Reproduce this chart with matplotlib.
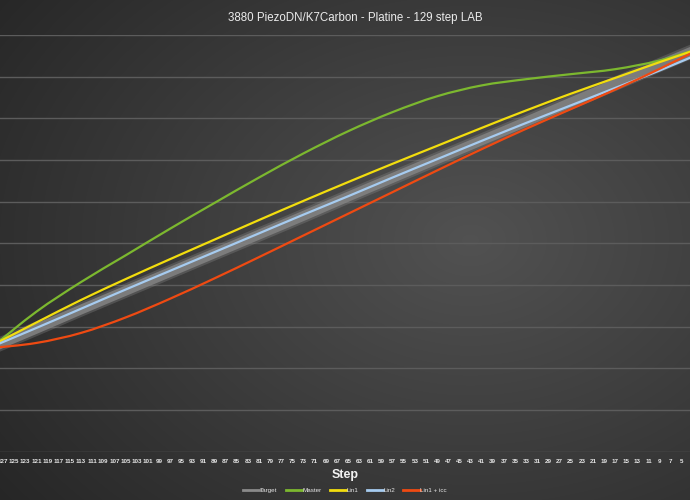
import numpy as np
import matplotlib
matplotlib.use("Agg")
import matplotlib.pyplot as plt
from matplotlib.path import Path
from matplotlib.patches import PathPatch
from matplotlib.lines import Line2D

plt.rcParams['font.family'] = ['Liberation Sans', 'DejaVu Sans']

steps = [129, 121, 113, 105, 97, 89, 81, 73, 65, 57, 49, 41, 33, 25, 17, 9, 1]
target = [25.0, 29.5, 34.1, 38.6, 43.1, 47.6, 52.1, 56.6, 61.2, 65.7, 70.2, 74.7, 79.2, 83.8, 88.3, 92.8, 97.3]
master = [25.1, 33.6, 40.7, 47.1, 53.5, 59.7, 65.8, 71.6, 76.9, 81.5, 85.3, 87.9, 89.4, 90.6, 91.8, 93.9, 97.2]
lin1 = [25.5, 31.0, 36.4, 41.4, 46.2, 50.9, 55.6, 60.2, 64.7, 69.1, 73.4, 77.7, 81.9, 85.9, 89.7, 93.5, 97.1]
lin2 = [25.2, 29.7, 34.3, 38.9, 43.4, 47.9, 52.4, 56.9, 61.3, 65.8, 70.2, 74.6, 78.9, 83.1, 87.3, 91.5, 96.0]
lin1_icc = [24.9, 26.1, 28.5, 32.2, 36.7, 41.6, 46.7, 51.9, 57.1, 62.3, 67.5, 72.6, 77.5, 82.2, 86.9, 91.9, 97.2]
tick_steps = list(range(127, 4, -2))
tick_labels = [str(s) for s in tick_steps]

title = "3880 PiezoDN/K7Carbon - Platine - 129 step LAB"

fig = plt.figure(figsize=(6.9, 5.0), dpi=100)

# background gradient
bg = fig.add_axes([0, 0, 1, 1], zorder=-10)
H, W = 500, 690
yy, xx = np.mgrid[0:H, 0:W]
cx, cy = 470, 240
r = np.sqrt(((xx - cx) / 520.0) ** 2 + ((yy - cy) / 380.0) ** 2)
val = 0.32 - 0.15 * np.clip(r, 0, 1.3)
img = np.dstack([val, val, val])
bg.imshow(img, aspect='auto', extent=[0, 1, 0, 1], origin='upper')
bg.axis('off')

ax = fig.add_axes([0, 0.0966, 1, 0.93 - 0.0966])
ax.set_facecolor('none')
ax.set_xlim(127.54, 3.57)
ax.set_ylim(0, 100)
for sp in ax.spines.values():
    sp.set_visible(False)
ax.set_yticks(np.arange(0, 101, 10))
ax.set_yticklabels([])
ax.tick_params(axis='y', length=0)
ax.grid(axis='y', color='#5c5c5c', linewidth=1.0)
ax.set_axisbelow(True)
ax.set_xticks(tick_steps)
ax.set_xticklabels(tick_labels, fontsize=4.5, color='#e6e6e6', fontweight='bold')
ax.tick_params(axis='x', length=0, pad=5)


def smooth_path(xs, ys, t=1.0):
    xs = np.asarray(xs, float)
    ys = np.asarray(ys, float)
    n = len(xs)
    verts = [(xs[0], ys[0])]
    codes = [Path.MOVETO]
    for i in range(n - 1):
        p0 = np.array([xs[max(i - 1, 0)], ys[max(i - 1, 0)]])
        p1 = np.array([xs[i], ys[i]])
        p2 = np.array([xs[i + 1], ys[i + 1]])
        p3 = np.array([xs[min(i + 2, n - 1)], ys[min(i + 2, n - 1)]])
        c1 = p1 + (p2 - p0) * t / 6.0
        c2 = p2 - (p3 - p1) * t / 6.0
        verts += [tuple(c1), tuple(c2), tuple(p2)]
        codes += [Path.CURVE4] * 3
    return Path(verts, codes)


def draw(ys, color, lw, alpha=1.0, z=2):
    patch = PathPatch(smooth_path(steps, ys), facecolor='none', edgecolor=color,
                      linewidth=lw, alpha=alpha, zorder=z, capstyle='butt')
    ax.add_patch(patch)


draw(target, '#909090', 10, alpha=0.3, z=2)
draw(target, '#838383', 7, alpha=0.85, z=2)
draw(master, '#7cb82f', 1.6, z=3)
draw(lin1, '#f2dd0e', 1.6, z=3)
draw(lin2, '#a6cbef', 1.6, z=3)
draw(lin1_icc, '#ef4a12', 1.6, z=3)

fig.text(0.515, 1 - 18 / 500, title, ha='center', va='center', fontsize=8.3, color='#ececec')
fig.text(0.5, 1 - 475 / 500, 'Step', ha='center', va='center', fontsize=9, fontweight='bold', color='#f2f2f2')

handles = [Line2D([], [], color=c, linewidth=2) for c in ['#8a8a8a', '#7cb82f', '#f2dd0e', '#a6cbef', '#ef4a12']]
labels = ['Target', 'Master', 'Lin1', 'Lin2', 'Lin1 + icc']
leg = fig.legend(handles, labels, loc='center', bbox_to_anchor=(0.5, 1 - 490 / 500), ncol=5,
                 frameon=False, fontsize=4.5, labelcolor='#e6e6e6', handlelength=2.6,
                 handletextpad=0.1, columnspacing=1.3)

fig.savefig('out.png', dpi=100)
